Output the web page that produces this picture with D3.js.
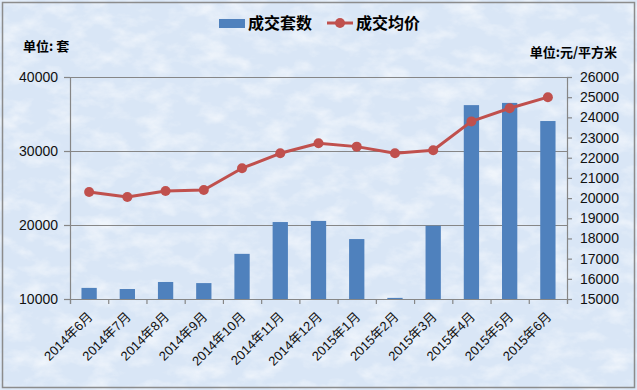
<!DOCTYPE html>
<html>
<head>
<meta charset="utf-8">
<script src="https://cdn.jsdelivr.net/npm/d3@7"></script>
<style>
  body { margin: 0; background: #fff; }
  text { font-family: "Liberation Sans", "Noto Sans CJK SC", sans-serif; }
</style>
</head>
<body>
<div id="chart"></div>
<script>
// data
var months = ['2014年6月', '2014年7月', '2014年8月', '2014年9月', '2014年10月', '2014年11月', '2014年12月',
  '2015年1月', '2015年2月', '2015年3月', '2015年4月', '2015年5月', '2015年6月']
var units = [11500, 11350, 12300, 12150, 16100, 20400, 20550, 18100, 10150, 19900, 36200, 36500, 34050]
var prices = [20300, 20050, 20350, 20400, 21480, 22220, 22720, 22550, 22220, 22370, 23800, 24450, 25000]
var leftTicks = [10000, 20000, 30000, 40000]
var rightTicks = d3.range(15000, 26001, 1000)

var W = 637
var H = 390
var plot = { left: 70, right: 567, top: 77, bottom: 299 }

var svg = d3.select('#chart').append('svg')
  .attr('width', W)
  .attr('height', H)

// textured light blue background
var defs = svg.append('defs')
var f = defs.append('filter').attr('id', 'tex').attr('x', 0).attr('y', 0).attr('width', '100%').attr('height', '100%')
f.append('feTurbulence').attr('type', 'fractalNoise').attr('baseFrequency', '0.035 0.06')
  .attr('numOctaves', 4).attr('seed', 7).attr('result', 'n')
f.append('feColorMatrix').attr('in', 'n').attr('type', 'matrix')
  .attr('values', '0 0 0 0 1  0 0 0 0 1  0 0 0 0 1  2.2 0 0 0 -0.95')

svg.append('rect')
  .attr('x', 0).attr('y', 0).attr('width', W).attr('height', H)
  .attr('fill', '#d9e6f6')
svg.append('rect')
  .attr('x', 0).attr('y', 0).attr('width', W).attr('height', H)
  .attr('fill', '#fff')
  .attr('filter', 'url(#tex)')
  .attr('opacity', 0.6)
svg.append('rect')
  .attr('x', 2.5).attr('y', 2.5).attr('width', W - 5).attr('height', H - 5)
  .attr('fill', 'none')
  .attr('stroke', '#8c8c8c')
  .attr('stroke-width', 1.5)

// scales
var x = d3.scaleBand().domain(months)
  .range([plot.left, plot.right])
  .paddingInner(0.6)
  .paddingOuter(0.3)
var xEdge = d3.scaleLinear().domain([0, months.length]).range([plot.left, plot.right])
var yL = d3.scaleLinear().domain([10000, 40000]).range([plot.bottom, plot.top])
var yR = d3.scaleLinear().domain([15000, 26000]).range([plot.bottom, plot.top])

var axisColor = '#868686'

// gridlines
svg.append('g')
  .attr('transform', 'translate(' + plot.left + ',0)')
  .call(d3.axisRight(yL).tickValues([20000, 30000, 40000]).tickSize(plot.right - plot.left).tickFormat(''))
  .call(function (g) {
    g.select('.domain').remove()
    g.selectAll('line').attr('stroke', axisColor).attr('stroke-width', 1.2)
  })

// bars
svg.append('g').selectAll('rect')
  .data(units)
  .join('rect')
  .attr('x', function (d, i) { return x(months[i]) })
  .attr('y', function (d) { return yL(d) })
  .attr('width', x.bandwidth())
  .attr('height', function (d) { return yL(10000) - yL(d) })
  .attr('fill', '#4f81bd')

// left axis
svg.append('g')
  .attr('transform', 'translate(' + plot.left + ',0)')
  .call(d3.axisLeft(yL).tickValues(leftTicks).tickSize(6).tickPadding(6).tickFormat(d3.format('d')))
  .call(function (g) {
    g.select('.domain').attr('stroke', axisColor).attr('stroke-width', 1.2)
    g.selectAll('line').attr('stroke', axisColor).attr('stroke-width', 1.2)
    g.selectAll('text').attr('font-size', 14).attr('fill', '#111')
      .style('font-family', '"Liberation Sans", sans-serif')
  })

// right axis
svg.append('g')
  .attr('transform', 'translate(' + plot.right + ',0)')
  .call(d3.axisRight(yR).tickValues(rightTicks).tickSize(5).tickPadding(8).tickFormat(d3.format('d')))
  .call(function (g) {
    g.select('.domain').attr('stroke', axisColor).attr('stroke-width', 1.2)
    g.selectAll('line').attr('stroke', axisColor).attr('stroke-width', 1.2)
    g.selectAll('text').attr('font-size', 14).attr('fill', '#111')
      .style('font-family', '"Liberation Sans", sans-serif')
  })

// bottom axis: ticks at band edges
svg.append('g')
  .attr('transform', 'translate(0,' + plot.bottom + ')')
  .call(d3.axisBottom(xEdge).tickValues(d3.range(0, months.length + 1)).tickSize(5).tickFormat(''))
  .call(function (g) {
    g.select('.domain').attr('stroke', axisColor).attr('stroke-width', 1.2)
    g.selectAll('line').attr('stroke', axisColor).attr('stroke-width', 1.2)
  })

// month labels, rotated
svg.append('g')
  .attr('transform', 'translate(0,' + plot.bottom + ')')
  .call(d3.axisBottom(x).tickSize(0).tickPadding(0))
  .call(function (g) {
    g.select('.domain').remove()
    g.selectAll('text')
      .attr('font-size', 13)
      .attr('fill', '#111')
      .attr('text-anchor', 'end')
      .attr('dy', null)
      .attr('y', null)
      .attr('transform', 'translate(2,16) rotate(-45)')
      .attr('dominant-baseline', 'middle')
  })

// price line
var line = d3.line()
  .x(function (d, i) { return x(months[i]) + x.bandwidth() / 2 })
  .y(function (d) { return yR(d) })

svg.append('path')
  .datum(prices)
  .attr('d', line)
  .attr('fill', 'none')
  .attr('stroke', '#c0504d')
  .attr('stroke-width', 3)
  .attr('stroke-linejoin', 'round')

svg.append('g').selectAll('circle')
  .data(prices)
  .join('circle')
  .attr('cx', function (d, i) { return x(months[i]) + x.bandwidth() / 2 })
  .attr('cy', function (d) { return yR(d) })
  .attr('r', 5)
  .attr('fill', '#c0504d')

// legend
var legend = svg.append('g')
legend.append('rect')
  .attr('x', 219).attr('y', 19).attr('width', 26).attr('height', 9)
  .attr('fill', '#4f81bd')
legend.append('text')
  .attr('x', 248).attr('y', 29)
  .attr('font-size', 16).attr('font-weight', 'bold')
  .style('font-family', '"Noto Sans CJK SC", sans-serif')
  .text('成交套数')
legend.append('line')
  .attr('x1', 327).attr('x2', 353).attr('y1', 23).attr('y2', 23)
  .attr('stroke', '#c0504d').attr('stroke-width', 3)
legend.append('circle')
  .attr('cx', 340).attr('cy', 23).attr('r', 5)
  .attr('fill', '#c0504d')
legend.append('text')
  .attr('x', 356).attr('y', 29)
  .attr('font-size', 16).attr('font-weight', 'bold')
  .style('font-family', '"Noto Sans CJK SC", sans-serif')
  .text('成交均价')

// unit labels
svg.append('text')
  .attr('x', 23).attr('y', 51)
  .attr('font-size', 13).attr('font-weight', 'bold')
  .style('font-family', '"Noto Sans CJK SC", sans-serif')
  .text('单位: 套')
svg.append('text')
  .attr('x', 617).attr('y', 57)
  .attr('text-anchor', 'end')
  .attr('font-size', 13).attr('font-weight', 'bold')
  .style('font-family', '"Noto Sans CJK SC", sans-serif')
  .text('单位:元/平方米')
</script>
</body>
</html>
